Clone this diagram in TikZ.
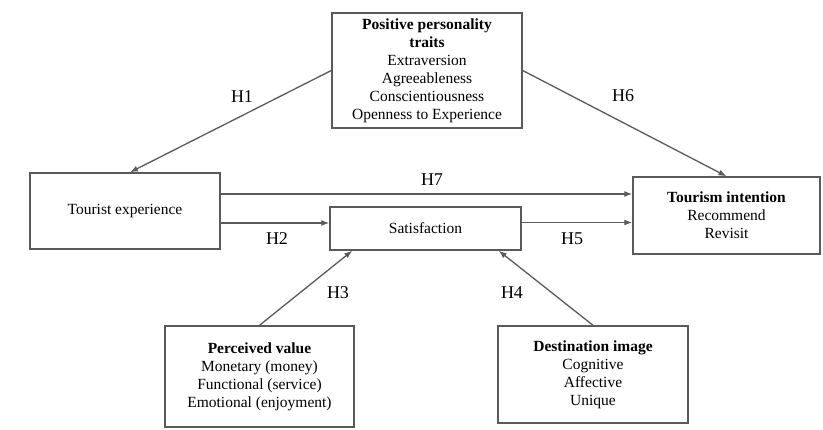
\documentclass[tikz,border=0pt]{standalone}
\usepackage{fontspec}
\setmainfont{Liberation Serif}
\usepackage{xcolor}
\usetikzlibrary{calc, arrows.meta}
\definecolor{linegray}{HTML}{5A5A5A}

\begin{document}
\begin{tikzpicture}[x=1pt, y=-1pt,
        % Define a style for the boxes and the paths
        box/.style={draw=linegray, line width=1.4pt, inner sep=0pt, align=center,
            font=\fontsize{15.5}{18}\selectfont},
        path/.style={draw=linegray, line width=1.3pt, -{Latex[length=8pt, width=6pt]}},
        hyp/.style={font=\fontsize{18}{21}\selectfont}]

        \useasboundingbox (0, 0) rectangle (823, 430);

        % 1. Place the constructs
        \node[box, minimum width=190, minimum height=115] (traits) at (427, 70.5)
            {\textbf{Positive personality}\\\textbf{traits}\\Extraversion\\Agreeableness\\Conscientiousness\\Openness to Experience};
        \node[box, minimum width=190, minimum height=76] (experience) at (125, 211) {Tourist experience};
        \node[box, minimum width=191, minimum height=43] (satisfaction) at (425.5, 228.5) {Satisfaction};
        \node[box, minimum width=187, minimum height=77] (intention) at (726.5, 215.5)
            {\textbf{Tourism intention}\\Recommend\\Revisit};
        \node[box, minimum width=189, minimum height=101] (value) at (259.5, 376.5)
            {\textbf{Perceived value}\\Monetary (money)\\Functional (service)\\Emotional (enjoyment)};
        \node[box, minimum width=190, minimum height=97] (image) at (593, 374.5)
            {\textbf{Destination image}\\Cognitive\\Affective\\Unique};

        % 2. Coordinates for the horizontal paths
        \coordinate (h7start) at ([yshift=17]experience.east);
        \coordinate (h2start) at ([yshift=-12]experience.east);
        \coordinate (h5start) at ([yshift=6]satisfaction.east);

        % 3. Draw the hypothesised paths
        \draw[path] (traits.west) -- ([xshift=5]experience.north);
        \draw[path] (traits.east) -- (intention.north);
        \draw[path] (h7start) -- (h7start -| intention.west);
        \draw[path] (h2start) -- (h2start -| satisfaction.west);
        \draw[path] (h5start) -- (h5start -| intention.west);
        \draw[path] (value.north) -- ([xshift=23]satisfaction.south west);
        \draw[path] (image.north) -- ([xshift=-23]satisfaction.south east);

        % 4. Label the hypotheses
        \node[hyp] (h1) at (242, 97) {H1};
        \node[hyp] (h6) at (623, 96) {H6};
        \node[hyp] (h7) at (432, 180) {H7};
        \node[hyp] (h2) at (277, 239) {H2};
        \node[hyp] (h5) at (572, 239) {H5};
        \node[hyp] (h3) at (338, 293) {H3};
        \node[hyp] (h4) at (512, 293) {H4};
    \end{tikzpicture}
\end{document}
